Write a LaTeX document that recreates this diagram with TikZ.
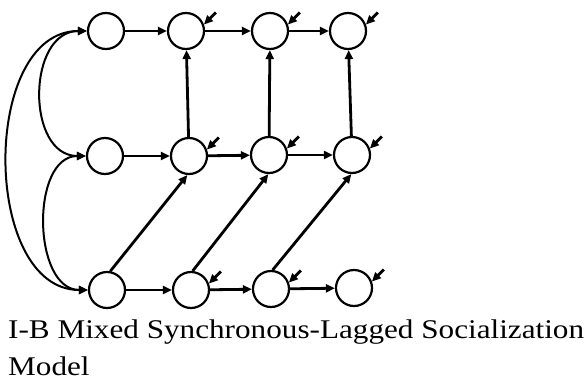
\documentclass[tikz,border=0pt]{standalone}
\usepackage{fontspec}
\setmainfont{Liberation Serif}
\usetikzlibrary{arrows.meta}

\begin{document}
\begin{tikzpicture}[x=1pt, y=-1pt,
    >={Triangle[length=9pt,width=8pt]},
    var/.style={circle, draw, line width=2.2pt, minimum size=36pt, inner sep=0pt},
    effect/.style={->, line width=2.8pt},
    cov/.style={<->, line width=2pt},
    err/.style={<-, line width=2.8pt}]
      \useasboundingbox (0,0) rectangle (587,381);
      % top row
      \node[var] (T1) at (106,31) {};
      \node[var] (T2) at (186,31) {};
      \node[var] (T3) at (270,31) {};
      \node[var] (T4) at (348,31) {};
      % middle row
      \node[var] (M1) at (105,156) {};
      \node[var] (M2) at (189,156) {};
      \node[var] (M3) at (269,155) {};
      \node[var] (M4) at (352,155) {};
      % bottom row
      \node[var] (B1) at (107,290) {};
      \node[var] (B2) at (191,290) {};
      \node[var] (B3) at (271,289) {};
      \node[var] (B4) at (354,288) {};
      \draw [effect] (T1) -- (T2);
      \draw [effect] (T2) -- (T3);
      \draw [effect] (T3) -- (T4);
      \draw [effect] (M1) -- (M2);
      \draw [effect] (M2) -- (M3);
      \draw [effect] (M3) -- (M4);
      \draw [effect] (B1) -- (B2);
      \draw [effect] (B2) -- (B3);
      \draw [effect] (B3) -- (B4);
      \draw [effect] (M2) -- (T2);
      \draw [effect] (M3) -- (T3);
      \draw [effect] (M4) -- (T4);
      \draw [effect] (B1.80) -- (M2.265);
      \draw [effect] (B2.85) -- (M3.268);
      \draw [effect] (B3.85) -- (M4.268);
      \draw [cov] (T1.west) to[out=180, in=180, looseness=1.23] (M1.west);
      \draw [cov] (M1.west) to[out=180, in=180, looseness=1.06] (B1.west);
      \draw [cov] (T1.west) to[out=180, in=180, looseness=1.05] (B1.west);
      % disturbances
      \draw [err] (T2.20) -- ++(12,-12);
      \draw [err] (T3.20) -- ++(12,-12);
      \draw [err] (T4.20) -- ++(12,-12);
      \draw [err] (M2.20) -- ++(12,-12);
      \draw [err] (M3.20) -- ++(12,-12);
      \draw [err] (M4.20) -- ++(12,-12);
      \draw [err] (B2.20) -- ++(12,-12);
      \draw [err] (B3.20) -- ++(12,-12);
      \draw [err] (B4.20) -- ++(12,-12);
      \node (cap) [anchor=north west, inner sep=0pt, align=left,
        font=\addfontfeatures{FakeStretch=1.155}\fontsize{27}{37}\selectfont] at (8,319.3)
        {I-B Mixed Synchronous-Lagged Socialization\\Model};
\end{tikzpicture}
\end{document}
